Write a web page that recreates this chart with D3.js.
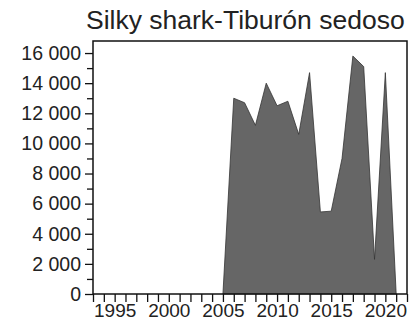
<!DOCTYPE html>
<html>
<head>
<meta charset="utf-8">
<script src="https://cdn.jsdelivr.net/npm/d3@7/dist/d3.min.js"></script>
<style>
  html, body { margin: 0; padding: 0; background: #fff; }
  svg { display: block; }
  text { font-family: "Liberation Sans", Arial, sans-serif; fill: #222; }
</style>
</head>
<body>
<svg id="chart" width="411" height="326"></svg>
<script>
// Annual catch series
const years   = [2005, 2006, 2007, 2008, 2009, 2010, 2011, 2012, 2013, 2014, 2015, 2016, 2017, 2018, 2019, 2020, 2021];
const catches = [0, 13000, 12700, 11200, 14000, 12500, 12800, 10600, 14700, 5450, 5500, 9000, 15800, 15100, 2300, 14700, 0];

const yTickValues = [0, 2000, 4000, 6000, 8000, 10000, 12000, 14000, 16000];
const xTickLabels = [1995, 2000, 2005, 2010, 2015, 2020];
const titleText = "Silky shark-Tiburón sedoso";

const svg = d3.select("#chart");
const margin = { left: 93, right: 4, top: 41, bottom: 32 };
const W = 411, H = 326;

const x = d3.scaleLinear().domain([1993, 2022]).range([margin.left, W - margin.right]);
const y = d3.scaleLinear().domain([0, 16800]).range([H - margin.bottom, margin.top]);

const fmt = v => d3.format(",")(v).replace(/,/g, " ");

// filled area
const data = years.map((yr, i) => ({ yr, v: catches[i] }));
svg.append("path")
  .datum(data)
  .attr("d", d3.area().x(d => x(d.yr)).y0(y(0)).y1(d => y(d.v)))
  .attr("fill", "#666")
  .attr("stroke", "#333")
  .attr("stroke-width", 0.8);

// frame
svg.append("rect")
  .attr("x", x.range()[0]).attr("y", y.range()[1])
  .attr("width", x.range()[1] - x.range()[0])
  .attr("height", y.range()[0] - y.range()[1])
  .attr("fill", "none").attr("stroke", "#111").attr("stroke-width", 1.5);

// y axis: major ticks with labels, minor ticks every 1000
const yAxis = d3.axisLeft(y).tickValues(yTickValues).tickSize(8).tickPadding(4).tickFormat(fmt);
const gy = svg.append("g").attr("transform", `translate(${x.range()[0]},0)`).call(yAxis);
gy.select(".domain").remove();
gy.selectAll(".tick line").attr("stroke", "#111").attr("stroke-width", 1.3);
gy.selectAll(".tick text").style("font-size", "19.5px").attr("fill", "#222");

const yMinor = d3.axisLeft(y).tickValues(d3.range(1000, 16001, 2000)).tickSize(6).tickFormat("");
const gym = svg.append("g").attr("transform", `translate(${x.range()[0]},0)`).call(yMinor);
gym.select(".domain").remove();
gym.selectAll(".tick line").attr("stroke", "#111").attr("stroke-width", 1.3);

// x axis: a tick for each year, labels every five years
const xAxis = d3.axisBottom(x).tickValues(d3.range(1993, 2023)).tickSize(8).tickPadding(2)
  .tickFormat(d => xTickLabels.includes(d) ? String(d) : "");
const gx = svg.append("g").attr("transform", `translate(0,${y.range()[0]})`).call(xAxis);
gx.select(".domain").remove();
gx.selectAll(".tick line").attr("stroke", "#111").attr("stroke-width", 1.3);
gx.selectAll(".tick text").style("font-size", "19px").attr("fill", "#222");

// title
svg.append("text")
  .attr("x", 86).attr("y", 29)
  .style("font-size", "26.5px")
  .attr("fill", "#222")
  .text(titleText);
</script>
</body>
</html>
